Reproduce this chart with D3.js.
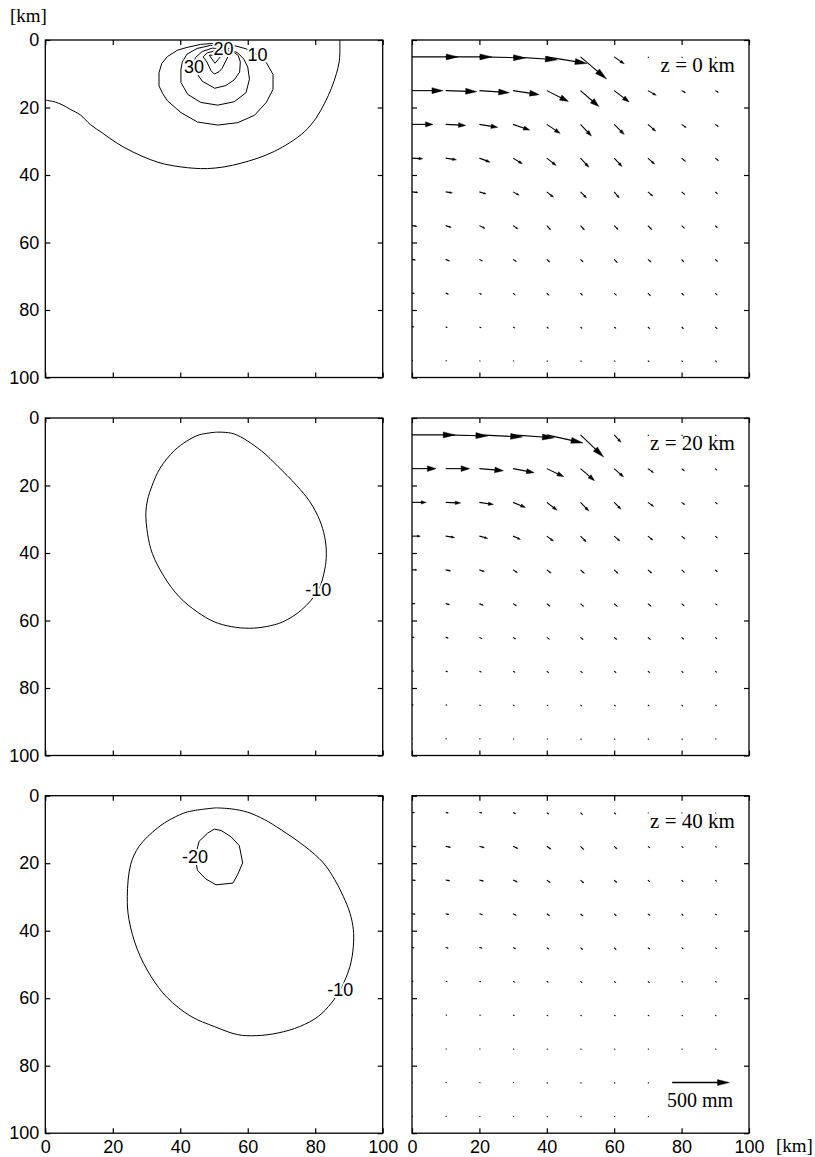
<!DOCTYPE html>
<html><head><meta charset="utf-8">
<script src="https://cdn.jsdelivr.net/npm/d3@7"></script>
<style>body{margin:0;background:#fff}</style>
</head><body>
<svg id="chart" width="815" height="1157"></svg>
<script>
// ---------- data ----------
const xTicks = [0, 20, 40, 60, 80, 100];
const yTicks = [0, 20, 40, 60, 80, 100];
const gridX = [0, 10, 20, 30, 40, 50, 60, 70, 80, 90];          // km
const gridY = [5, 15, 25, 35, 45, 55, 65, 75, 85, 95];          // km
const depthLabels = ["z = 0 km", "z = 20 km", "z = 40 km"];
const scaleArrowMM = 500;
const scaleArrowLabel = "500 mm";
const unitLabel = "[km]";

// horizontal displacement (mm), east component, rows = gridY, cols = gridX
const east_z0 = [
  [403,403,403,386,351,228,88,9,9,9],
  [272,272,263,228,189,160,131,73,35,29],
  [184,175,160,146,117,96,88,68,41,29],
  [94,94,94,82,82,73,68,59,35,29],
  [53,59,59,53,59,53,44,44,29,20],
  [44,50,50,44,35,35,35,35,26,20],
  [32,35,29,29,26,24,29,29,20,20],
  [24,26,20,20,20,18,20,24,20,18],
  [18,15,18,15,15,15,15,18,18,18],
  [9,9,9,9,9,9,9,12,12,12]
];
// displacement (mm) pointing down the map (increasing km on the y axis)
const south_z0 = [
  [0,0,9,26,58,193,61,9,9,9],
  [0,9,18,35,94,138,99,41,20,15],
  [0,9,26,50,79,102,88,59,29,20],
  [6,15,35,50,64,79,73,53,29,24],
  [6,9,18,29,47,53,53,38,24,18],
  [6,15,24,29,38,38,35,35,24,20],
  [6,15,15,20,24,24,29,24,24,20],
  [3,9,12,18,20,20,20,24,20,18],
  [0,6,9,12,15,15,15,18,18,18],
  [0,3,6,6,9,9,9,12,12,12]
];
const east_z20 = [
  [377,368,377,360,316,202,59,9,9,9],
  [210,210,210,184,149,123,82,50,26,15],
  [125,131,123,108,90,73,59,50,29,20],
  [73,79,73,64,59,50,50,44,29,20],
  [44,44,44,38,38,35,35,35,26,20],
  [29,35,35,32,29,29,29,29,24,18],
  [20,24,24,24,24,24,24,24,20,15],
  [15,18,18,18,18,18,18,18,15,12],
  [12,12,12,12,12,12,12,12,12,12],
  [6,9,9,9,9,9,9,9,9,9]
];
const south_z20 = [
  [0,9,18,26,70,193,64,9,9,9],
  [0,0,18,35,70,105,73,35,20,15],
  [0,6,18,44,68,76,59,35,20,15],
  [0,12,20,29,44,50,44,35,24,18],
  [0,9,15,24,29,32,32,29,24,18],
  [0,9,15,20,24,26,26,24,20,15],
  [0,6,12,15,18,20,20,20,18,15],
  [0,6,9,12,15,15,15,15,15,12],
  [0,3,6,9,9,12,12,12,12,9],
  [0,3,3,6,6,9,9,9,9,6]
];
const east_z40 = [
  [24,24,24,24,18,18,15,6,6,6],
  [38,44,44,44,38,29,26,20,15,12],
  [32,38,38,38,32,29,24,20,15,12],
  [29,29,29,29,26,24,20,20,15,12],
  [20,24,24,24,20,20,18,18,15,12],
  [12,15,15,15,15,15,15,15,12,12],
  [9,12,12,12,12,12,12,12,12,9],
  [9,9,9,9,9,9,9,9,9,9],
  [6,9,9,9,9,9,9,9,0,0],
  [6,9,9,9,9,9,9,9,0,0]
];
const south_z40 = [
  [0,3,3,12,15,18,15,6,6,6],
  [3,9,12,20,26,29,24,15,12,9],
  [3,6,9,18,24,26,24,18,15,12],
  [3,6,9,15,18,20,18,15,15,12],
  [3,6,6,12,15,18,18,15,12,12],
  [0,3,6,9,9,12,12,12,9,9],
  [0,3,3,6,9,9,9,9,9,9],
  [0,3,3,6,6,6,6,6,6,6],
  [0,0,3,3,6,6,6,6,0,0],
  [0,0,3,3,6,6,6,6,0,0]
];

// contour lines (x km, y km)
const contour_z0_outer = [[0,17.8],[3,18.4],[5,19.2],[7.5,20.6],[10.4,22.2],[13.4,25.1],[17,27.6],[21.3,30.6],[26,33.2],[31.3,35.5],[35.5,36.8],[40.2,37.6],[44,38],[48.1,38.1],[53,37.6],[58,36.5],[63,35],[67.9,33],[72.5,30.4],[76.9,27.1],[80.2,23.2],[82.8,18.7],[84.8,14.3],[86.3,9.9],[87.1,6.5],[87.3,3.9],[87.3,0]];
const contour_z0_10 = [[65.5,6.7],[63,4.5],[59.5,2.6],[55,1.4],[50,1.0],[46,1.3],[42,2.2],[39.2,3.0],[36.2,4.9],[34.5,7],[33.7,9.7],[33.7,13.6],[34.8,15.9],[36.2,18.0],[40.2,21.5],[45.1,24.3],[51.1,25.2],[57,24.5],[62,22.3],[65.5,18.5],[67.5,14.6],[67.5,10.2],[65.5,6.7]];
const contour_z0_20 = [[49,1.6],[45,2.5],[42,4.2],[40.6,6.5],[40.2,8.7],[40.2,12.6],[42.2,16.1],[46.1,18.5],[51.1,19.3],[56,18.3],[59.5,15.6],[60.5,11.6],[60,8],[58.8,5.6],[57,3.8],[53.5,2.1],[49,1.6]];
const contour_z0_30 = [[49.5,2.4],[46.5,3.4],[44.5,5.2],[44,7.5],[45,10],[46.5,12.2],[50.2,14.3],[53.5,13.5],[56,11.8],[57.6,9.5],[57.8,6.5],[57.2,4.6],[55.5,3.3],[52.6,2.6],[49.5,2.4]];
const contour_z0_35 = [[50,3.3],[48,3.8],[46.8,5],[47.9,6.5],[49.1,9.1],[50.1,10.1],[51.5,9.4],[52.4,8.4],[54.1,5.0],[55,3.6],[53,3.2],[50,3.3]];
const contour_z0_40 = [[48.6,4.5],[52.3,4.5],[50.3,6.9],[48.6,4.5]];
const contour_z20_m10 = [[50.6,4.2],[55.9,4.7],[64,9.7],[69,14.4],[74.4,19.9],[78.4,24.8],[81.3,30.2],[82.8,35.2],[83.3,40.1],[82.8,45],[80.9,51],[75.9,56.9],[70.4,60.4],[65.5,61.8],[60.5,62.3],[55.1,61.8],[50.1,60.4],[45.1,57.5],[39.7,53],[35.2,47],[31.7,40.1],[30.3,34.2],[29.8,28.2],[30.3,24.3],[31.7,19.9],[34,14.9],[38.2,9.7],[42,6.8],[45.6,5],[50.6,4.2]];
const contour_z40_m10 = [[50.6,3.6],[55.1,3.9],[60,4.9],[65,7.1],[69.9,10.1],[76.9,15],[82.4,19.9],[85.8,24.9],[88.3,29.8],[90.3,34.8],[91.3,39.7],[91.3,44.6],[90.3,50.6],[87.6,57.2],[84.8,61.4],[80.9,65.4],[75.4,68.4],[69,70.3],[62.5,71.1],[57,70.8],[50.1,68.4],[43.2,65.4],[36.2,59.9],[31.3,53.5],[27.3,45.6],[24.8,36.7],[24.3,29.8],[25.3,20.4],[27.8,15],[33.2,9.6],[37.5,6.8],[42.2,4.8],[50.6,3.6]];
const contour_z40_m20 = [[50.1,9.9],[52.1,10.3],[55.1,12.2],[57.5,14.8],[58.5,19.9],[57,23.4],[55.6,25.9],[50.6,26.4],[47.6,24.7],[45.1,22.1],[44.4,18],[45.6,13.5],[48.1,11.1],[50.1,9.9]];

const contourLabels_z0 = [{t:"20",x:52.8,y:2.4},{t:"10",x:62.9,y:4.3},{t:"30",x:44.1,y:7.8}];
const contourLabels_z20 = [{t:"-10",x:80.9,y:50.9}];
const contourLabels_z40 = [{t:"-20",x:44.4,y:17.9},{t:"-10",x:87.4,y:57.5}];

// ---------- layout ----------
const svg = d3.select("#chart");
const leftX = [45.3, 382.7], rightX = [412, 749];
const panelTops = [40, 418, 795.7], panelH = 337.5;
const KM_PER_MM = 17 / 500;
const sansFont = "'Liberation Sans', Arial, Helvetica, sans-serif";
const serifFont = "'Liberation Serif', 'Times New Roman', serif";

const rows = [
  {east: east_z0, south: south_z0, contours: [
      {pts: contour_z0_outer, smooth: true}, {pts: contour_z0_10}, {pts: contour_z0_20},
      {pts: contour_z0_30}, {pts: contour_z0_35}, {pts: contour_z0_40}], labels: contourLabels_z0},
  {east: east_z20, south: south_z20, contours: [{pts: contour_z20_m10, smooth: true}], labels: contourLabels_z20},
  {east: east_z40, south: south_z40, contours: [{pts: contour_z40_m10, smooth: true}, {pts: contour_z40_m20}], labels: contourLabels_z40}
];

function frameAxes(g, x, y, showY, showX) {
  const ax = g.append("g").attr("class","axes");
  ax.append("g").attr("transform", `translate(${x.range()[0]},0)`)
    .call(d3.axisLeft(y).tickValues(yTicks).tickSize(-5).tickSizeOuter(0).tickPadding(6)
      .tickFormat(showY ? d3.format("d") : () => ""));
  ax.append("g").attr("transform", `translate(${x.range()[1]},0)`)
    .call(d3.axisRight(y).tickValues(yTicks).tickSize(-5).tickSizeOuter(0).tickFormat(() => ""));
  ax.append("g").attr("transform", `translate(0,${y.range()[0]})`)
    .call(d3.axisTop(x).tickValues(xTicks).tickSize(-5).tickSizeOuter(0).tickFormat(() => ""));
  ax.append("g").attr("transform", `translate(0,${y.range()[1]})`)
    .call(d3.axisBottom(x).tickValues(xTicks).tickSize(-5).tickSizeOuter(0).tickPadding(7)
      .tickFormat(showX ? d3.format("d") : () => ""));
  ax.selectAll(".domain").remove();
  ax.selectAll(".tick line").attr("stroke", "#000").attr("stroke-width", 1.2);
  ax.selectAll(".tick text").attr("fill", "#000").style("font-family", sansFont).style("font-size", "18px");
  ax.append("rect")
    .attr("x", x.range()[0]).attr("y", y.range()[0])
    .attr("width", x.range()[1] - x.range()[0]).attr("height", y.range()[1] - y.range()[0])
    .attr("fill", "none").attr("stroke", "#000").attr("stroke-width", 1.3);
}

function drawArrow(g, x, y, x0, y0, e, s, width) {
  const x1 = x(x0), y1 = y(y0);
  const x2 = x(x0 + e * KM_PER_MM), y2 = y(y0 + s * KM_PER_MM);
  const L = Math.hypot(x2 - x1, y2 - y1);
  if (L < 0.2) return;
  const ux = (x2 - x1) / L, uy = (y2 - y1) / L;
  const hl = Math.min(0.36 * L, 12), hw = Math.min(0.12 * L, 3);
  const bx = x2 - ux * hl, by = y2 - uy * hl;
  g.append("line").attr("x1", x1).attr("y1", y1).attr("x2", bx + ux * hl * 0.3).attr("y2", by + uy * hl * 0.3)
    .attr("stroke", "#000").attr("stroke-width", width || 1.1);
  g.append("path")
    .attr("d", `M${x2},${y2}L${bx - uy * hw},${by + ux * hw}L${bx + uy * hw},${by - ux * hw}Z`)
    .attr("fill", "#000").attr("stroke", "#000").attr("stroke-width", 0.4);
}

rows.forEach((row, i) => {
  const top = panelTops[i];
  const yS = d3.scaleLinear().domain([0, 100]).range([top, top + panelH]);
  const xL = d3.scaleLinear().domain([0, 100]).range(leftX);
  const xR = d3.scaleLinear().domain([0, 100]).range(rightX);
  const isBottom = i === rows.length - 1;

  // ----- left: contours -----
  const gl = svg.append("g");
  row.contours.forEach(c => {
    const line = d3.line().x(d => xL(d[0])).y(d => yS(d[1]))
      .curve(c.smooth ? d3.curveCatmullRom.alpha(0.5) : d3.curveLinear);
    gl.append("path").attr("d", line(c.pts)).attr("fill", "none")
      .attr("stroke", "#000").attr("stroke-width", 1);
  });
  gl.selectAll("text.cl").data(row.labels).join("text").attr("class", "cl")
    .attr("x", d => xL(d.x)).attr("y", d => yS(d.y)).attr("dy", "0.36em")
    .attr("text-anchor", "middle").text(d => d.t)
    .style("font-family", sansFont).style("font-size", "18px")
    .attr("fill", "#000").attr("stroke", "#fff").attr("stroke-width", 4)
    .attr("paint-order", "stroke").attr("stroke-linejoin", "round");
  frameAxes(gl, xL, yS, true, isBottom);

  // ----- right: displacement arrows -----
  const gr = svg.append("g");
  gridY.forEach((gy, r) => gridX.forEach((gx, c) => {
    drawArrow(gr, xR, yS, gx, gy, row.east[r][c], row.south[r][c]);
  }));
  gr.append("text").attr("x", xR(95.8)).attr("y", yS(9.5)).attr("text-anchor", "end")
    .text(depthLabels[i]).style("font-family", serifFont).style("font-size", "21px").attr("fill", "#000");
  if (isBottom) {
    drawArrow(gr, xR, yS, 77.2, 85, scaleArrowMM, 0, 1.5);
    gr.append("text").attr("x", xR(85.5)).attr("y", yS(92.3)).attr("text-anchor", "middle")
      .text(scaleArrowLabel).style("font-family", serifFont).style("font-size", "20px").attr("fill", "#000");
  }
  frameAxes(gr, xR, yS, false, isBottom);
});

svg.append("text").attr("x", 10).attr("y", 22).text(unitLabel)
  .style("font-family", serifFont).style("font-size", "19px").attr("fill", "#000");
svg.append("text").attr("x", 776).attr("y", 1152).text(unitLabel)
  .style("font-family", serifFont).style("font-size", "19px").attr("fill", "#000");
</script>
</body></html>
